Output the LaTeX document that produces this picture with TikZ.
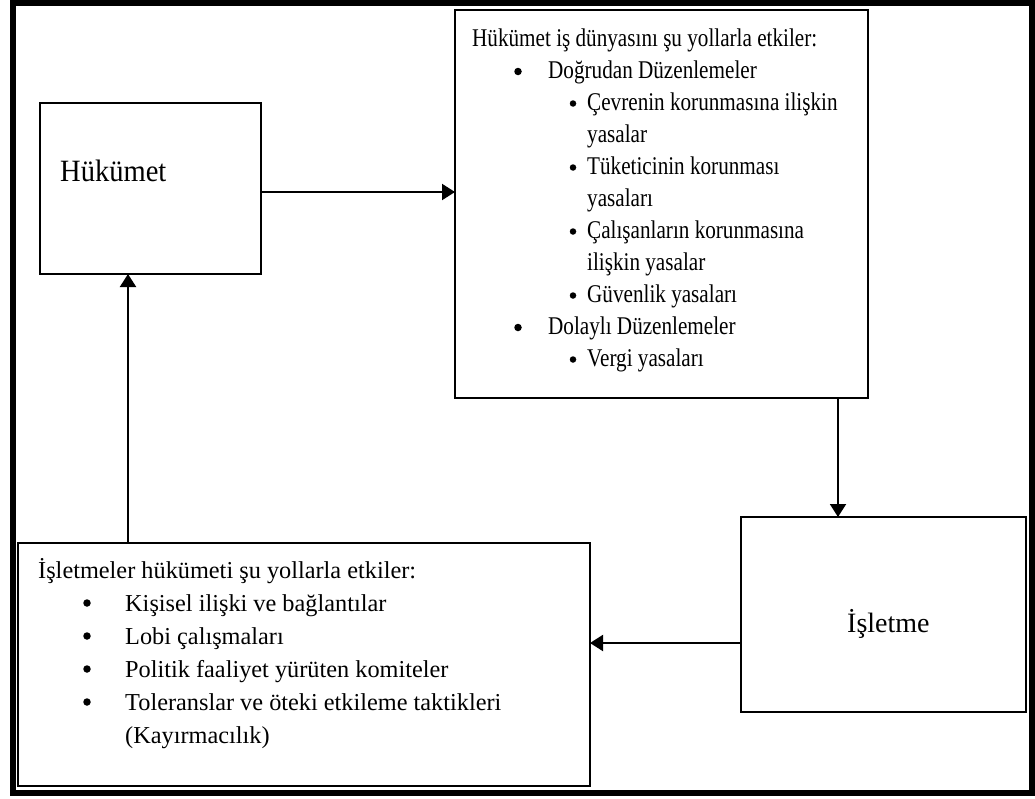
\documentclass[tikz,border=0pt]{standalone}
\usepackage{fontspec}
\setmainfont{Liberation Serif}
\newfontfamily\condfont[FakeStretch=0.83]{Liberation Serif}
\newfontfamily\hukfont[FakeStretch=0.92]{Liberation Serif}
\usetikzlibrary{arrows.meta}
\begin{document}
\begin{tikzpicture}[x=1pt,y=-1pt,
  box/.style={draw,line width=2.2pt,inner sep=0pt,outer sep=0pt},
  arr/.style={-{Triangle[length=13pt,width=16pt]},line width=2pt},
  toptxt/.style={anchor=base west,inner sep=0pt,font=\condfont\fontsize{25.5}{30}\selectfont},
  bottxt/.style={anchor=base west,inner sep=0pt,font=\fontsize{24.3}{30}\selectfont},
  bul/.style={circle,fill,inner sep=0pt,minimum size=7.5pt},
  sbul/.style={circle,fill,inner sep=0pt,minimum size=6.5pt}]
\fill[white] (0,0) rectangle (1035,798);
\useasboundingbox (0,0) rectangle (1035,798);
\draw[line width=6pt] (13,3) rectangle (1032,793);

% boxes
\node[box,minimum width=221pt,minimum height=171pt] (huk) at (150.5,188.5) {};
\node[box,minimum width=413pt,minimum height=388pt] (top) at (661.5,204) {};
\node[box,minimum width=285pt,minimum height=195pt] (isl) at (883.5,614.5) {};
\node[box,minimum width=572pt,minimum height=243pt] (bot) at (304,664.5) {};

% box labels
\node[anchor=base west,inner sep=0pt,font=\hukfont\fontsize{31}{36}\selectfont] (hukl) at (60,181) {Hükümet};
\node[anchor=base west,inner sep=0pt,font=\fontsize{28}{34}\selectfont] (isll) at (847,632) {İşletme};

% top box text
\node[toptxt] (t1) at (472,46) {Hükümet iş dünyasını şu yollarla etkiler:};
\node[bul] (tb1) at (518,71.5) {};
\node[toptxt] (t2) at (548,78) {Doğrudan Düzenlemeler};
\node[sbul] (tb2) at (573,103.5) {};
\node[toptxt] (t3) at (587,110) {Çevrenin korunmasına ilişkin};
\node[toptxt] (t4) at (587,142) {yasalar};
\node[sbul] (tb3) at (573,167.5) {};
\node[toptxt] (t5) at (587,174) {Tüketicinin korunması};
\node[toptxt] (t6) at (587,206) {yasaları};
\node[sbul] (tb4) at (573,231.5) {};
\node[toptxt] (t7) at (587,238) {Çalışanların korunmasına};
\node[toptxt] (t8) at (587,270) {ilişkin yasalar};
\node[sbul] (tb5) at (573,295.5) {};
\node[toptxt] (t9) at (587,302) {Güvenlik yasaları};
\node[bul] (tb6) at (518,327.5) {};
\node[toptxt] (t10) at (548,334) {Dolaylı Düzenlemeler};
\node[sbul] (tb7) at (573,359.5) {};
\node[toptxt] (t11) at (587,366) {Vergi yasaları};

% bottom box text
\node[bottxt] (b1) at (38,578) {İşletmeler hükümeti şu yollarla etkiler:};
\node[bul] (bb1) at (87,603) {};
\node[bottxt] (b2) at (125,611) {Kişisel ilişki ve bağlantılar};
\node[bul] (bb2) at (87,636) {};
\node[bottxt] (b3) at (125,644) {Lobi çalışmaları};
\node[bul] (bb3) at (87,669) {};
\node[bottxt] (b4) at (125,677) {Politik faaliyet yürüten komiteler};
\node[bul] (bb4) at (87,702) {};
\node[bottxt] (b5) at (125,710) {Toleranslar ve öteki etkileme taktikleri};
\node[bottxt] (b6) at (125,743) {(Kayırmacılık)};

% connectors
\coordinate (ya) at (0,192);
\coordinate (xb) at (128,0);
\coordinate (xc) at (838,0);
\coordinate (yd) at (0,643);
\draw[arr] (huk.east |- ya) -- (top.west |- ya);
\draw[arr] (xc |- top.south) -- (xc |- isl.north);
\draw[arr] (isl.west |- yd) -- (bot.east |- yd);
\draw[arr] (xb |- bot.north) -- (xb |- huk.south);
\end{tikzpicture}
\end{document}
